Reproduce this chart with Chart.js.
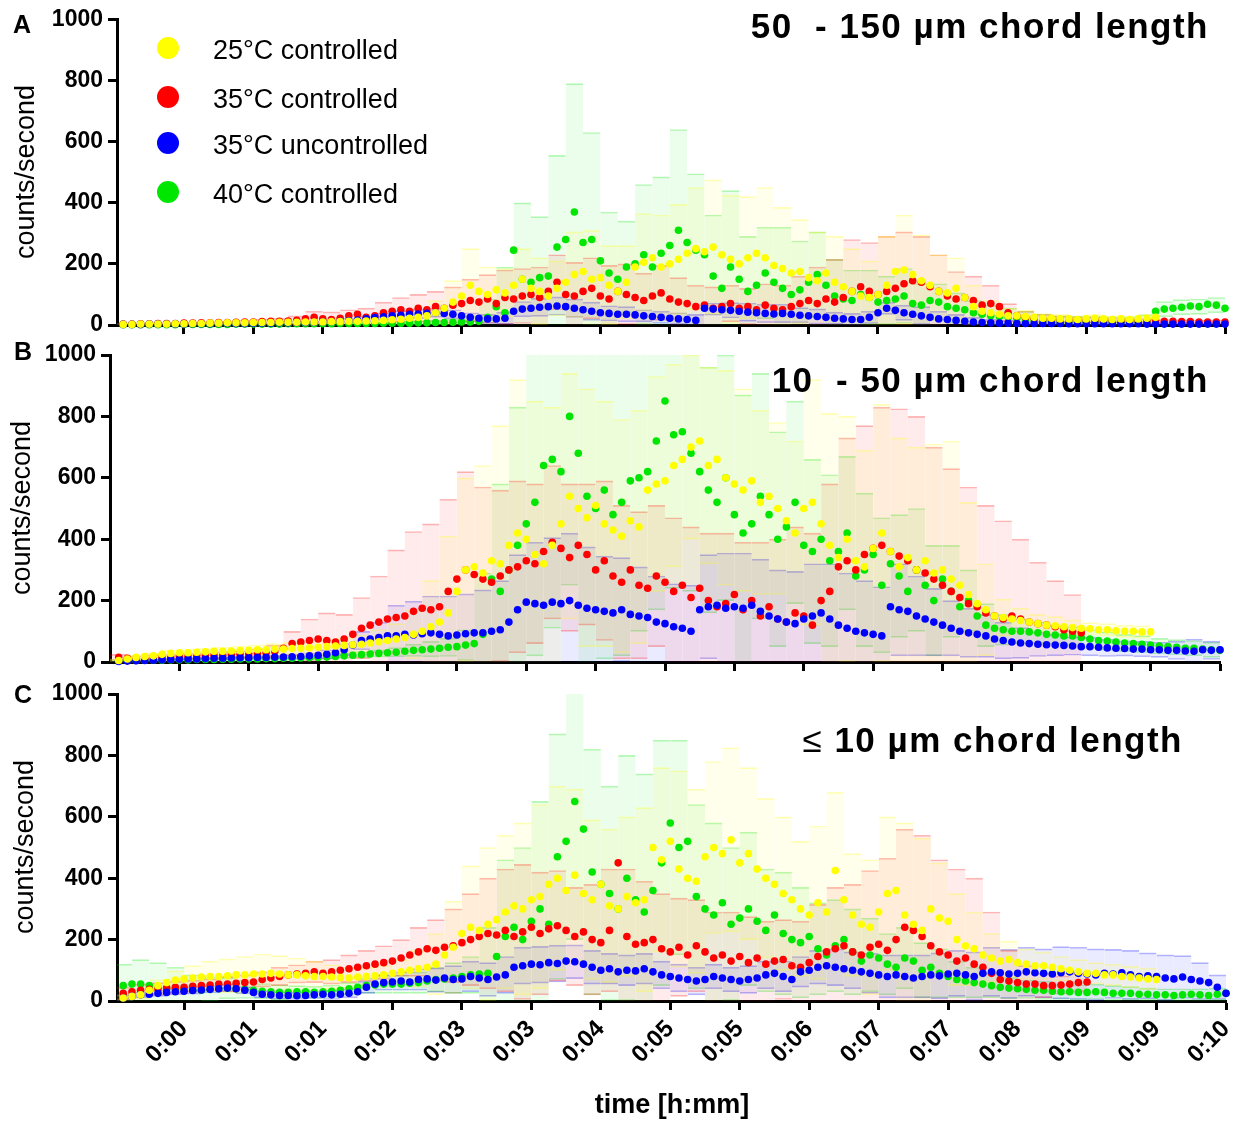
<!DOCTYPE html>
<html>
<head>
<meta charset="utf-8">
<script src="https://cdn.jsdelivr.net/npm/chart.js@4.4.1/dist/chart.umd.min.js"></script>
<style>
  body {
    margin: 0;
    width: 1243px;
    height: 1124px;
    background: #fff;
    position: relative;
    overflow: hidden;
    font-family: "Liberation Sans", Arial, sans-serif;
    color: #000;
  }
  canvas { position: absolute; left: 0; }
  .txt { position: absolute; line-height: 1; white-space: pre; }
  .letter { font-size: 25px; font-weight: bold; }
  .title { font-size: 35px; font-weight: bold; letter-spacing: 1.5px; text-align: right; }
  .ytitle { font-size: 27px; transform: translate(-50%, -50%) rotate(-90deg); }
  .dot { position: absolute; width: 22px; height: 22px; border-radius: 50%; }
  .leg { font-size: 27px; }
</style>
</head>
<body>
<canvas id="chartA" width="1243" height="340" style="top:0px"></canvas>
<canvas id="chartB" width="1243" height="345" style="top:335px"></canvas>
<canvas id="chartC" width="1243" height="449" style="top:675px"></canvas>

<div class="txt letter" style="left:13px;top:12px">A</div>
<div class="txt letter" style="left:14px;top:339px">B</div>
<div class="txt letter" style="left:14px;top:682px">C</div>

<div class="txt ytitle" style="left:25px;top:172px">counts/second</div>
<div class="txt ytitle" style="left:21px;top:508px">counts/second</div>
<div class="txt ytitle" style="left:24px;top:847px">counts/second</div>

<div class="txt title" style="right:34px;top:8px">50  - 150 µm chord length</div>
<div class="txt title" style="right:34px;top:362px">10  - 50 µm chord length</div>
<div class="txt title" style="right:60px;top:722px"><span style="font-weight:normal">≤</span> 10 µm chord length</div>

<div id="legend"></div>

<div class="txt" style="left:672px;top:1091px;font-size:27px;font-weight:bold;transform:translateX(-50%)">time [h:mm]</div>

<script>
// time grid in seconds
var times = [-35,-30,-25,-20,-15,-10,-5,0,5,10,15,20,25,30,35,40,45,50,55,60,65,70,75,80,85,90,95,100,105,110,115,120,
  125,130,135,140,145,150,155,160,165,170,175,180,185,190,195,200,205,210,215,220,225,230,235,240,245,250,255,260,265,270,
  275,280,285,290,295,300,305,310,315,320,325,330,335,340,345,350,355,360,365,370,375,380,385,390,395,400,405,410,415,420,
  425,430,435,440,445,450,455,460,465,470,475,480,485,490,495,500,505,510,515,520,525,530,535,540,545,550,555,560,
  565,570,575,580,585,590,595,600];

var tickTimes = [0,40,80,120,160,200,240,280,320,360,400,440,480,520,560,600];
var tickLabels = ["0:00","0:01","0:01","0:02","0:03","0:03","0:04","0:05","0:05","0:06","0:07","0:07","0:08","0:09","0:09","0:10"];

var seriesNames = ["25°C controlled","35°C controlled","35°C uncontrolled","40°C controlled"];

// A: 50 - 150 um
var a25c = [2,2,3,3,3,3,4,4,
  5,5,6,6,7,7,7,8,8,8,9,9,9,10,10,10,11,11,12,12,13,14,15,17,
  19,22,25,30,40,55,75,95,130,110,
  100,115,105,130,150,120,110,95,120,140,
  165,175,150,155,130,110,140,190,205,220,
  190,200,215,235,250,240,255,230,215,200,
  220,235,220,195,185,170,175,155,145,170,
  140,125,110,95,90,100,130,175,180,165,
  145,130,110,105,120,90,60,45,40,35,
  30,30,
  28,25,22,22,20,20,18,20,22,20,18,20,18,20,22,25,
  null,null,null,null,null,null,null,null];
var a35c = [3,3,4,4,5,5,5,6,
  6,7,7,8,8,9,10,10,11,12,12,13,15,20,25,20,18,22,30,35,25,30,40,45,
  50,45,55,50,60,55,65,70,80,75,
  85,70,90,85,95,100,90,110,140,100,
  95,110,120,95,85,110,100,90,80,95,
  105,85,75,70,60,65,55,60,70,55,
  60,50,65,55,50,60,70,80,70,85,
  75,90,110,125,110,100,110,120,135,145,
  140,125,110,95,85,90,80,65,70,60,
  40,30,
  25,22,20,20,18,18,17,16,16,15,15,15,14,14,13,13,
  12,12,11,11,10,10,10,10];
var a35u = [2,2,2,3,3,3,3,3,
  4,4,4,5,5,5,5,6,6,6,7,7,8,8,9,10,11,12,14,16,20,24,27,30,
  32,35,36,38,40,38,35,30,25,22,
  20,20,22,45,52,55,58,60,62,60,
  55,50,45,40,38,35,35,33,30,28,
  25,22,20,18,15,55,52,50,48,45,
  42,40,38,36,38,35,32,30,28,25,
  22,20,18,18,25,40,55,48,40,35,
  30,25,20,18,15,12,10,8,7,6,
  6,5,
  5,5,5,5,5,4,4,4,4,4,4,4,4,4,3,3,
  3,3,3,3,3,3,3,3];
var a40c = [1,1,1,1,1,1,1,2,
  2,2,2,2,2,3,3,3,3,3,3,4,4,4,4,4,4,5,5,5,5,5,6,6,
  6,6,7,7,8,8,9,10,10,12,
  25,60,40,245,150,140,155,160,255,280,
  370,270,280,210,170,150,190,200,230,190,
  235,260,310,270,245,230,160,120,190,150,
  110,130,170,140,120,100,115,140,165,130,
  95,85,80,100,90,75,80,85,95,70,
  65,80,75,60,55,50,40,35,30,28,
  25,22,
  20,18,16,15,15,14,14,13,13,12,12,12,12,12,14,45,
  52,55,58,62,60,68,65,55];

// B: 10 - 50 um
var b25c = [5,10,15,18,20,25,28,30,
  30,32,33,35,35,36,37,38,40,40,42,42,44,45,46,48,50,52,54,56,58,62,66,70,
  75,80,90,100,115,130,160,230,300,310,
  290,330,320,380,420,400,350,320,380,450,
  540,500,470,510,450,430,410,460,440,560,
  580,590,640,660,700,720,640,660,600,580,
  560,590,520,540,500,460,420,500,520,450,
  380,340,400,330,310,370,420,360,310,340,
  300,330,290,300,270,250,220,190,170,150,
  145,140,
  135,130,125,120,118,115,112,110,108,105,105,102,100,100,98,98,
  null,null,null,null,null,null,null,null];
var b35c = [15,12,10,12,14,15,16,18,
  18,20,20,22,22,24,25,26,28,30,35,45,60,65,70,75,70,65,75,90,110,120,130,140,
  145,150,165,175,170,180,230,270,300,285,
  270,260,280,300,310,330,320,360,390,370,
  340,380,350,300,330,280,260,300,250,240,
  280,260,230,250,210,240,200,180,190,220,
  170,200,150,180,140,130,160,150,120,200,
  230,310,330,300,350,370,380,360,345,330,
  300,290,270,250,230,210,190,180,160,150,
  140,150,
  140,130,125,120,115,105,100,95,
  null,null,null,null,null,null,null,null,null,null,null,null,null,null,null,null];
var b35u = [2,3,4,5,6,7,8,9,
  10,10,11,12,12,13,14,14,15,15,16,16,17,18,20,22,25,30,40,55,70,75,80,85,
  85,90,88,92,95,90,85,88,92,95,
  95,100,105,130,170,195,190,185,195,190,
  200,185,175,170,165,160,170,155,150,145,
  130,125,115,110,100,170,180,185,175,180,
  175,185,165,150,140,130,125,140,150,160,
  140,120,110,100,95,90,85,180,170,165,
  150,140,130,120,110,100,95,90,85,75,
  70,65,
  62,60,58,56,55,54,52,50,50,48,46,45,44,42,42,40,
  40,38,38,36,35,40,38,40];
var b40c = [5,5,5,6,6,6,7,7,
  7,8,8,8,9,9,10,10,10,11,11,12,12,13,14,15,16,18,20,22,24,26,28,30,
  32,35,38,40,42,45,48,50,55,60,
  90,270,230,300,380,450,520,640,660,620,
  800,680,540,500,560,480,520,590,600,620,
  720,850,740,750,680,620,560,520,600,480,
  420,450,540,480,400,440,520,380,360,400,
  330,360,420,280,300,350,250,320,280,230,
  300,250,200,270,230,180,200,150,120,110,
  105,100,
  100,98,95,90,88,85,85,80,75,70,68,65,62,60,58,55,
  52,50,48,45,45,42,40,38];

// C: <= 10 um
var c25c = [10,15,20,35,50,60,68,72,
  75,78,80,80,82,85,85,88,88,90,88,85,85,82,80,80,78,76,75,78,80,82,85,90,
  95,100,105,110,120,150,175,220,240,230,
  250,265,290,310,300,330,340,380,400,360,
  410,350,330,380,310,300,340,320,330,500,
  460,520,430,400,390,470,500,480,525,450,
  480,430,400,380,350,330,300,280,320,290,
  425,330,280,250,240,290,350,360,280,250,
  230,300,270,260,200,180,170,150,140,130,
  135,125,
  120,115,115,110,105,100,95,90,90,85,85,80,78,75,72,70,
  null,null,null,null,null,null,null,null];
var c35c = [25,30,35,38,40,42,45,45,
  48,50,52,55,55,58,60,62,70,75,80,85,88,90,95,90,95,100,105,110,115,120,125,130,
  140,150,160,170,165,175,180,190,200,210,
  220,215,230,210,225,240,220,235,245,230,
  210,225,200,190,230,450,210,185,190,200,
  170,160,175,150,180,160,140,150,130,145,
  125,140,120,130,135,115,110,125,145,160,
  170,180,160,150,175,185,165,200,240,230,
  210,180,160,150,130,140,120,110,90,70,
  65,60,
  55,55,50,50,52,55,60,62,
  null,null,null,null,null,null,null,null,null,null,null,null,null,null,null,null];
var c35u = [10,15,20,22,25,28,30,32,
  34,36,38,40,42,40,35,28,22,20,18,18,17,18,20,22,20,22,25,30,45,55,60,62,
  65,62,70,72,68,75,70,72,80,75,
  70,78,85,110,115,120,118,125,122,130,
  128,120,110,100,105,95,100,98,105,95,
  85,80,75,70,65,70,80,75,70,65,
  70,75,85,90,80,70,95,100,110,115,
  110,105,100,95,90,85,80,85,80,75,
  80,85,82,88,90,85,80,90,95,92,
  88,90,
  95,92,90,88,92,95,90,88,85,90,88,92,85,80,82,80,
  75,72,78,70,65,60,45,25];
var c40c = [50,55,55,50,45,42,40,38,
  35,35,38,40,42,40,38,35,32,30,28,28,30,30,28,30,32,35,40,45,50,52,55,55,
  55,58,60,65,70,72,75,80,85,88,
  90,145,210,240,200,260,300,250,470,520,
  650,560,420,380,350,300,400,330,290,360,
  450,580,500,520,340,300,280,320,250,270,
  300,260,230,280,220,200,190,210,170,150,
  180,200,160,130,150,140,120,110,140,130,
  100,110,90,80,70,65,60,55,50,45,
  42,40,
  38,35,35,32,30,30,28,28,30,28,25,25,25,22,22,20,
  20,18,20,22,20,18,22,25];

// standard deviations, every second time point
var sdA25c = [3,3,3,4,4,5,5,5,6,6,6,7,7,8,8,10, 12,15,40,70,120,90,80,100, 110,90,140,160,130,120,160,170,
  180,200,220,210,200,230,200,170, 160,150,140,120,160,180,150,120, 100,70,40,25,20,15,15,12, 12,12,12,12,12,12,12,12];
var sdA35c = [3,3,3,3,4,4,5,6,8,10,15,20,25,20,30,35, 40,45,50,60,70,80,90,90, 100,90,110,100,110,100,90,90,
  80,70,70,60,60,70,80,90, 120,140,170,160,180,170,150,120, 90,80,60,30,20,15,12,10, 10,8,8,8,6,6,6,6];
var sdA35u = [2,2,2,2,3,3,3,3,4,4,5,5,6,8,10,12, 15,15,15,15,15,15,20,25, 30,30,30,30,25,25,20,20,
  20,20,20,25,30,30,30,25, 25,20,20,20,20,25,30,25, 20,15,12,10,8,8,6,6, 6,5,5,5,5,5,5,5];
var sdA40c = [1,1,1,1,1,1,2,2,2,2,2,3,3,3,3,4, 5,6,8,10,20,60,150,250, 200,300,420,350,200,150,230,250,
  330,250,200,250,180,150,200,160, 140,120,100,90,80,90,70,60, 50,40,35,30,25,20,15,15, 15,15,15,20,25,25,25,25];

var sdB25c = [5,8,10,10,12,12,14,15,16,18,20,20,22,25,30,40, 50,80,150,250,300,350,450,500, 500,450,400,420,400,380,380,350,
  330,300,320,350,330,300,280,300, 400,430,400,380,420,420,400,420, 450,300,150,60,40,30,30,25, 20,20,20,20,20,20,20,20];
var sdB35c = [10,10,10,10,10,10,12,12,15,20,40,70,90,80,100,150, 220,260,280,300,320,300,280,280, 260,250,240,230,260,250,240,230,
  240,230,220,230,220,240,260,280, 300,350,400,420,450,480,500,430, 400,380,350,320,260,200,150,120, 100,100,100,100,100,100,100,100];
var sdB35u = [3,3,4,4,5,5,5,5,6,6,8,10,15,20,30,50, 100,110,120,130,130,140,160,180, 200,210,220,200,180,170,160,150,
  140,150,170,180,180,170,160,170, 170,180,180,170,160,150,130,110, 90,80,70,60,50,40,35,30, 30,28,25,25,25,30,40,30];
var sdB40c = [3,3,3,3,4,4,4,5,5,5,6,6,7,8,10,12, 15,20,25,30,50,200,350,450, 500,550,550,600,550,500,500,550,
  500,450,400,400,450,400,350,330, 300,280,250,250,220,200,200,180, 150,100,70,50,40,35,30,30, 30,30,28,28,25,25,25,25];

var sdC25c = [10,15,20,30,40,50,55,60,65,60,55,50,40,35,30,30, 40,60,100,150,200,250,250,280, 300,300,280,260,250,260,300,300,
  320,300,280,300,280,260,250,220, 250,255,200,220,250,300,300,180, 150,120,80,60,50,45,40,40, 35,35,35,35,35,35,35,35];
var sdC35c = [20,20,20,20,20,20,25,25,25,30,30,35,40,45,50,55, 60,80,100,120,150,180,200,220, 200,180,160,180,200,220,200,180,
  160,150,150,160,150,140,130,150, 170,200,220,250,300,320,330,300, 300,280,200,100,60,40,30,30, 30,30,30,30,30,30,30,30];
var sdC35u = [10,10,10,10,12,12,12,12,12,12,12,12,15,15,20,25, 30,35,40,45,50,55,60,60, 60,60,55,55,50,50,50,45,
  45,45,40,40,45,45,50,50, 55,60,60,65,70,70,70,75, 75,80,80,80,80,80,85,85, 85,80,80,75,75,70,60,40];
var sdC40c = [70,80,80,70,50,40,35,30,25,25,20,20,20,20,25,30, 30,35,40,50,60,150,250,300, 350,400,450,400,350,400,450,400,
  350,300,300,250,250,200,200,180, 150,150,140,120,100,100,90,80, 60,50,40,35,30,30,25,25, 25,25,22,20,20,20,20,20];

var colors = ["#ffff00", "#ff0000", "#0000ff", "#00e600"];
var drawOrder = [1, 3, 2, 4];
var fontFamily = '"Liberation Sans", Arial, sans-serif';

var rgba = function(hex, a) {
  var n = parseInt(hex.slice(1), 16);
  return "rgba(" + (n >> 16) + "," + ((n >> 8) & 255) + "," + (n & 255) + "," + a + ")";
};

var makeChart = function(id, series, sds, box) {
  var datasets = [];
  series.forEach(function(vals, k) {
    datasets.push({
      type: "scatter",
      label: seriesNames[k],
      data: times.map(function(t, i) { return { x: t, y: vals[i] }; }),
      backgroundColor: colors[k],
      borderWidth: 0,
      pointRadius: 3.8,
      pointHoverRadius: 3.8,
      order: drawOrder[k],
      clip: false
    });
    // error bars as faint floating bars with a cap line on each end
    var bars = [];
    sds[k].forEach(function(s, j) {
      var m = vals[2 * j];
      if (m !== null) bars.push({ x: times[2 * j], y: [m - s, m + s] });
    });
    datasets.push({
      type: "bar",
      label: seriesNames[k] + " SD",
      data: bars,
      backgroundColor: rgba(colors[k], 0.08),
      borderColor: rgba(colors[k], 0.28),
      borderWidth: { top: 1, bottom: 1, left: 0, right: 0 },
      borderSkipped: false,
      grouped: false,
      barPercentage: 1,
      categoryPercentage: 1,
      order: 10 + k,
      clip: 0
    });
  });

  var ctx = document.getElementById(id).getContext("2d");
  return new Chart(ctx, {
    type: "scatter",
    data: { datasets: datasets },
    options: {
      responsive: false,
      animation: false,
      events: [],
      layout: { padding: { top: box.top, right: 1243 - box.right, left: 0, bottom: 0 } },
      plugins: { legend: { display: false }, tooltip: { enabled: false } },
      scales: {
        x: {
          type: "linear",
          min: box.xmin,
          max: 600,
          offset: false,
          afterBuildTicks: function(s) {
            s.ticks = tickTimes.map(function(v) { return { value: v }; });
          },
          ticks: {
            display: box.labels,
            autoSkip: false,
            minRotation: 45,
            maxRotation: 45,
            padding: 5,
            color: "#000",
            font: { family: fontFamily, size: 24, weight: "bold" },
            callback: function(v, i) { return tickLabels[i]; }
          },
          grid: { offset: false, drawOnChartArea: false, tickLength: 9, tickWidth: 3, tickColor: "#000" },
          border: { color: "#000", width: 3 },
          afterFit: function(s) {
            s.height = box.height - box.bottom;
            s.paddingLeft = 0;
            s.paddingRight = 0;
          }
        },
        y: {
          type: "linear",
          min: 0,
          max: 1000,
          ticks: {
            stepSize: 200,
            padding: 5,
            color: "#000",
            font: { family: fontFamily, size: 23, weight: "bold" },
            callback: function(v) { return String(v); }
          },
          grid: { drawOnChartArea: false, tickLength: 9, tickWidth: 3, tickColor: "#000" },
          border: { color: "#000", width: 3 },
          afterFit: function(s) {
            s.width = box.left;
            s.paddingTop = 0;
            s.paddingBottom = 0;
          }
        }
      }
    }
  });
};

makeChart("chartA", [a25c, a35c, a35u, a40c], [sdA25c, sdA35c, sdA35u, sdA40c],
  { top: 19.5, bottom: 325, left: 117, right: 1225, height: 340, xmin: -38.6, labels: false });
makeChart("chartB", [b25c, b35c, b35u, b40c], [sdB25c, sdB35c, sdB35u, sdB40c],
  { top: 20, bottom: 327, left: 110, right: 1220, height: 345, xmin: -40, labels: false });
makeChart("chartC", [c25c, c35c, c35u, c40c], [sdC25c, sdC35c, sdC35u, sdC40c],
  { top: 19, bottom: 326, left: 117, right: 1226, height: 449, xmin: -38.6, labels: true });

// legend inside panel A
var legendY = [48, 97, 143, 192];
var legendHtml = "";
seriesNames.forEach(function(name, k) {
  legendHtml += '<div class="dot" style="left:157px;top:' + (legendY[k] - 11) + 'px;background:' + colors[k] + '"></div>';
  legendHtml += '<div class="txt leg" style="left:213px;top:' + (legendY[k] - 11) + 'px">' + name + "</div>";
});
document.getElementById("legend").innerHTML = legendHtml;
</script>
</body>
</html>
